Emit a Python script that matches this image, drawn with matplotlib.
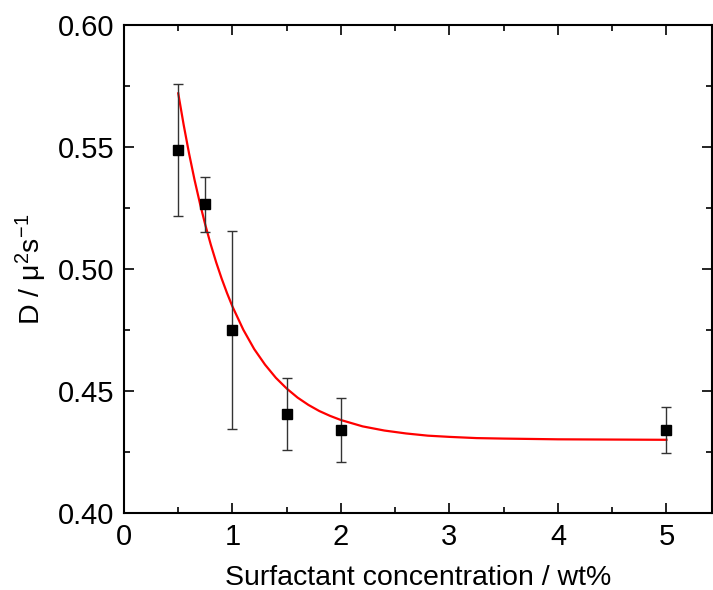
import matplotlib
matplotlib.use("Agg")
import matplotlib.pyplot as plt
from matplotlib.ticker import MultipleLocator

plt.rcParams['font.family'] = ['Liberation Sans', 'DejaVu Sans']
plt.rcParams['mathtext.default'] = 'regular'

# Data
conc = [0.5, 0.75, 1.0, 1.5, 2.0, 5.0]
diff = [0.5488, 0.5266, 0.4750, 0.4405, 0.4340, 0.4340]
err = [0.0272, 0.0113, 0.0406, 0.0147, 0.0131, 0.0095]

# Fit curve readings
fit_x = [0.5, 0.55, 0.6, 0.65, 0.7, 0.75, 0.8, 0.85, 0.9, 0.95, 1.0, 1.1, 1.2, 1.3,
         1.4, 1.5, 1.6, 1.7, 1.8, 1.9, 2.0, 2.2, 2.4, 2.6, 2.8, 3.0, 3.25, 3.5, 4.0, 4.5, 5.0]
fit_y = [0.5720, 0.5591, 0.5473, 0.5366, 0.5269, 0.5180, 0.5100, 0.5027, 0.4961, 0.4901,
         0.4846, 0.4751, 0.4672, 0.4608, 0.4554, 0.4510, 0.4473, 0.4443, 0.4418, 0.4398,
         0.4381, 0.4355, 0.4338, 0.4326, 0.4317, 0.4312, 0.4307, 0.4305, 0.4302, 0.4301, 0.4300]

x_ticks = [0, 1, 2, 3, 4, 5]
y_ticks = [0.40, 0.45, 0.50, 0.55, 0.60]
y_labels = ['0.40', '0.45', '0.50', '0.55', '0.60']

fig = plt.figure(figsize=(7.13, 5.90), dpi=100)
ax = fig.add_axes([0.1739, 0.1305, 0.8247, 0.8271])

ax.errorbar(conc, diff, yerr=err, fmt='s', color='black', ecolor='#333333',
            elinewidth=1.0, capsize=3.8, capthick=1.0, markersize=6.5, zorder=3)
ax.plot(fit_x, fit_y, color='#ff0000', linewidth=1.6, zorder=2)

ax.set_xlim(0, 5.42)
ax.set_ylim(0.40, 0.60)
ax.set_xticks(x_ticks)
ax.set_xticklabels([str(t) for t in x_ticks])
ax.set_yticks(y_ticks)
ax.set_yticklabels(y_labels)
ax.xaxis.set_minor_locator(MultipleLocator(0.5))
ax.yaxis.set_minor_locator(MultipleLocator(0.025))

ax.tick_params(which='both', direction='in', top=True, right=True, labelsize=21, width=1.2)
ax.tick_params(which='major', length=7.5, pad=7)
ax.tick_params(which='minor', length=4)
for s in ax.spines.values():
    s.set_linewidth(1.5)

ax.set_xlabel('Surfactant concentration / wt%', fontsize=20.5, labelpad=10)
ax.set_ylabel('D / μ$^{2}$s$^{-1}$', fontsize=20.5, labelpad=6)

fig.savefig('out.png', dpi=100)
